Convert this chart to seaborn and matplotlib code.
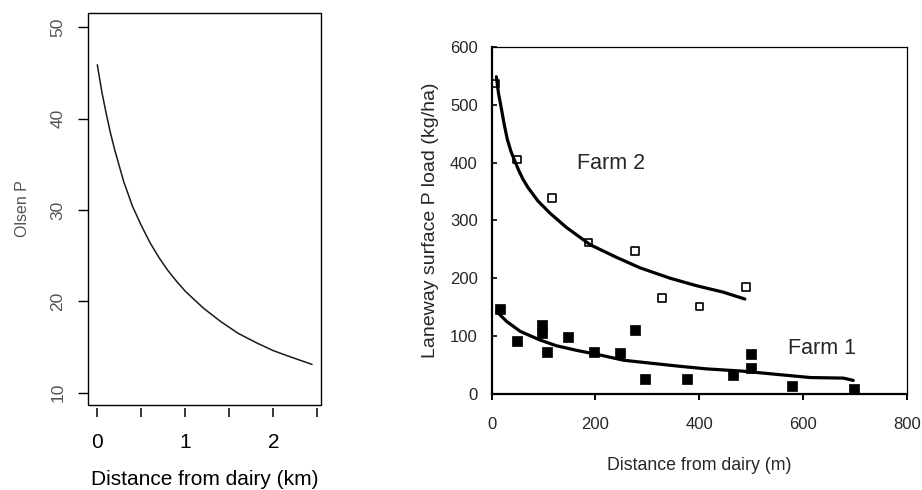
import matplotlib
matplotlib.use("Agg")
import matplotlib.pyplot as plt
from matplotlib.patches import Rectangle
import seaborn as sns
import pandas as pd

# Olsen P decay with distance (km)
olsen_km = [0.0, 0.05, 0.10, 0.15, 0.20, 0.30, 0.40, 0.50, 0.60, 0.70, 0.80, 0.90,
            1.00, 1.20, 1.40, 1.60, 1.80, 2.00, 2.20, 2.44]
olsen_p = [45.9, 43.0, 40.6, 38.4, 36.5, 33.1, 30.4, 28.3, 26.4, 24.8, 23.4, 22.2,
           21.1, 19.3, 17.8, 16.5, 15.5, 14.6, 13.9, 13.1]
olsen_xticks = [0, 0.5, 1, 1.5, 2, 2.5]
olsen_xticklabels = ["0", "", "1", "", "2", ""]
olsen_yticks = [10, 20, 30, 40, 50]

# Laneway surface P load (kg/ha) vs distance (m)
farm2_x = [7, 49, 116, 186, 276, 328, 400, 490]
farm2_y = [537, 406, 339, 262, 247, 166, 151, 185]
farm2_fit_x = [9, 13, 19, 24, 30, 37, 45, 52, 60, 70, 89, 112, 144, 190, 241, 286,
               344, 395, 446, 488]
farm2_fit_y = [549, 521, 492, 467, 441, 420, 402, 387, 372, 357, 334, 313, 288, 258,
               236, 218, 200, 187, 176, 164]

farm1_x = [16, 48, 96, 96, 106, 148, 197, 247, 276, 296, 376, 466, 499, 499, 578, 698]
farm1_y = [146, 91, 119, 105, 73, 98, 72, 70, 110, 26, 26, 32, 68, 44, 13, 8]
farm1_fit_x = [10, 29, 55, 93, 125, 164, 209, 254, 305, 357, 414, 485, 543, 614, 678, 697]
farm1_fit_y = [142, 125, 108, 93, 83, 75, 67, 58, 53, 48, 43, 39, 34, 28, 27, 23]

load_xticks = [0, 200, 400, 600, 800]
load_yticks = [0, 100, 200, 300, 400, 500, 600]

sns.set_theme(style="white")
plt.rcParams["font.family"] = ["Liberation Sans", "DejaVu Sans"]

fig = plt.figure(figsize=(9.22, 4.90), dpi=100)

# ---- Left panel: Olsen P ----
ax1 = fig.add_axes([88 / 922, 1 - 405 / 490, 233 / 922, 392 / 490])
olsen = pd.DataFrame({"km": olsen_km, "p": olsen_p})
sns.lineplot(data=olsen, x="km", y="p", ax=ax1, color="#1a1a1a", lw=1.1,
             sort=False, estimator=None)
ax1.set_xlim(-0.106, 2.542)
ax1.set_ylim(8.65, 51.57)
for s in ax1.spines.values():
    s.set_visible(False)
ax1.spines["bottom"].set_position(("outward", 2.3))
ax1.add_patch(Rectangle((0, 0), 1, 1, transform=ax1.transAxes, fill=False,
                        lw=1.0, ec="black", clip_on=False, zorder=5))
ax1.set_xticks(olsen_xticks)
ax1.set_xticklabels(olsen_xticklabels, fontsize=15, color="black")
ax1.set_yticks(olsen_yticks)
ax1.set_yticklabels([str(v) for v in olsen_yticks], rotation=90, va="center",
                    fontsize=12.5, color="#555555")
ax1.tick_params(axis="x", direction="out", length=6.5, width=1.1, color="black",
                pad=11, bottom=True)
ax1.tick_params(axis="y", direction="out", length=7.2, width=1.0, color="black",
                pad=9, left=True)
ax1.set_xlabel("Distance from dairy (km)", fontsize=15, color="black", labelpad=13)
ax1.set_ylabel("Olsen P", fontsize=11.5, color="#555555", labelpad=15)

# ---- Right panel: laneway P load ----
ax2 = fig.add_axes([491.7 / 922, 1 - 393.7 / 490, 415 / 922, 346.4 / 490])
f2 = pd.DataFrame({"x": farm2_x, "y": farm2_y})
f1 = pd.DataFrame({"x": farm1_x, "y": farm1_y})
f2fit = pd.DataFrame({"x": farm2_fit_x, "y": farm2_fit_y})
f1fit = pd.DataFrame({"x": farm1_fit_x, "y": farm1_fit_y})

sns.scatterplot(data=f2, x="x", y="y", ax=ax2, marker="s", s=28,
                facecolor="none", edgecolor="black", linewidth=1.2, zorder=3,
                clip_on=False)
sns.scatterplot(data=f1, x="x", y="y", ax=ax2, marker="s", s=42,
                color="black", edgecolor="black", linewidth=0.5, zorder=3,
                clip_on=False)
sns.lineplot(data=f2fit, x="x", y="y", ax=ax2, color="black", lw=2.3,
             sort=False, estimator=None, zorder=4)
sns.lineplot(data=f1fit, x="x", y="y", ax=ax2, color="black", lw=2.3,
             sort=False, estimator=None, zorder=4)

ax2.text(231, 399, "Farm 2", fontsize=15.5, ha="center", va="center")
ax2.text(637, 79, "Farm 1", fontsize=15.5, ha="center", va="center")

ax2.set_xlim(0, 800)
ax2.set_ylim(0, 600)
ax2.set_xticks(load_xticks)
ax2.set_yticks(load_yticks)
ax2.set_xticklabels([str(v) for v in load_xticks], fontsize=12)
ax2.set_yticklabels([str(v) for v in load_yticks], fontsize=12)
for side in ["left", "bottom"]:
    ax2.spines[side].set_linewidth(1.6)
    ax2.spines[side].set_color("black")
for side in ["top", "right"]:
    ax2.spines[side].set_linewidth(0.9)
    ax2.spines[side].set_color("black")
ax2.tick_params(axis="x", direction="out", length=4.5, width=1.4, color="black",
                pad=12, bottom=True)
ax2.tick_params(axis="y", direction="in", length=3.5, width=1.2, color="black",
                pad=10, left=True)
ax2.set_xlabel("Distance from dairy (m)", fontsize=12.8, labelpad=18)
ax2.set_ylabel("Laneway surface P load (kg/ha)", fontsize=14, labelpad=8)

fig.savefig("out.png", dpi=100, facecolor="white")
